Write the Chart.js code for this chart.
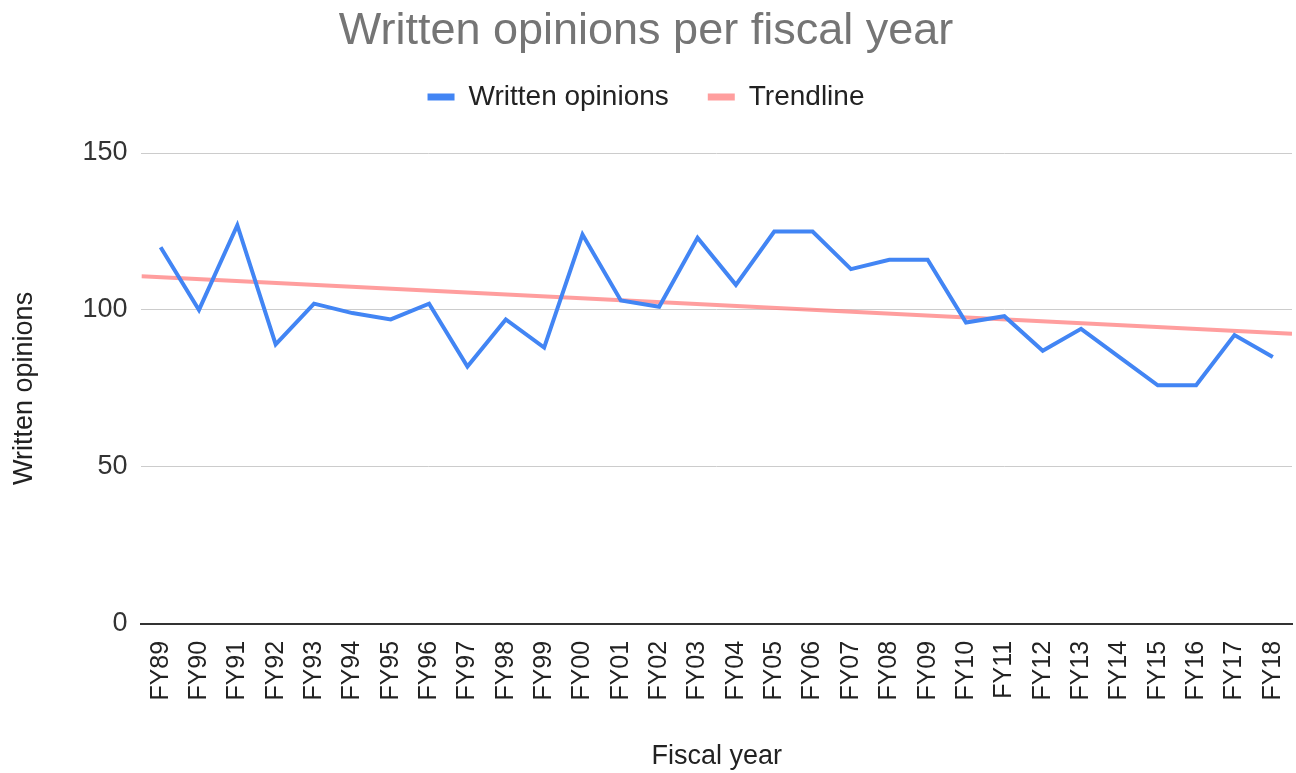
<!DOCTYPE html>
<html>
<head>
<meta charset="utf-8">
<title>Written opinions per fiscal year</title>
<script src="https://cdn.jsdelivr.net/npm/chart.js@4/dist/chart.umd.min.js"></script>
<style>
  html, body { margin: 0; padding: 0; background: #ffffff; }
  #wrap { position: relative; width: 1296px; height: 773px; }
</style>
</head>
<body>
<div id="wrap"><canvas id="chart" width="1296" height="773"></canvas></div>
<script>
// Fiscal years on the horizontal axis
const fiscalYears = [
  'FY89','FY90','FY91','FY92','FY93','FY94','FY95','FY96','FY97','FY98',
  'FY99','FY00','FY01','FY02','FY03','FY04','FY05','FY06','FY07','FY08',
  'FY09','FY10','FY11','FY12','FY13','FY14','FY15','FY16','FY17','FY18'
];

// Written opinions issued in each fiscal year
const writtenOpinions = [
  120, 100, 127, 89, 102, 99, 97, 102, 82, 97,
  88, 124, 103, 101, 123, 108, 125, 125, 113, 116,
  116, 96, 98, 87, 94, 85, 76, 76, 92, 85
];

// Linear trendline, spanning the full plot width (half a year beyond each end)
const trendX = [-0.5, 29.5];
const trendY = [110.7, 92.4];

// Value axis ticks
const yTicks = [0, 50, 100, 150];

const FONT = "'Liberation Sans', Arial, sans-serif";

const opinionPoints = writtenOpinions.map((v, i) => ({ x: i, y: v }));
const trendPoints = trendX.map((x, i) => ({ x: x, y: trendY[i] }));

// Adds room under the legend so the plot starts at the right height
const legendSpacer = {
  id: 'legendSpacer',
  beforeInit(chart) {
    const origFit = chart.legend.fit;
    chart.legend.fit = function () {
      origFit.bind(chart.legend)();
      this.height += 32;
    };
  }
};

new Chart(document.getElementById('chart'), {
  type: 'line',
  data: {
    datasets: [
      {
        label: 'Written opinions',
        data: opinionPoints,
        borderColor: '#4285f4',
        backgroundColor: '#4285f4',
        borderWidth: 4,
        pointRadius: 0,
        pointHoverRadius: 0,
        tension: 0,
        order: 1
      },
      {
        label: 'Trendline',
        data: trendPoints,
        borderColor: 'rgba(255, 120, 120, 0.72)',
        backgroundColor: 'rgba(255, 120, 120, 0.72)',
        borderWidth: 4,
        pointRadius: 0,
        pointHoverRadius: 0,
        tension: 0,
        order: 2
      }
    ]
  },
  options: {
    responsive: false,
    animation: false,
    layout: { padding: { left: 0, right: 4, top: 0, bottom: 0 } },
    plugins: {
      title: {
        display: true,
        text: 'Written opinions per fiscal year',
        color: '#757575',
        font: { family: FONT, size: 45, weight: 'normal' },
        padding: { top: 5, bottom: -15 }
      },
      legend: {
        display: true,
        position: 'top',
        labels: {
          color: '#222222',
          font: { family: FONT, size: 28 },
          boxWidth: 27,
          boxHeight: 7,
          padding: 39,
          generateLabels(chart) {
            const items = Chart.defaults.plugins.legend.labels.generateLabels(chart);
            items.forEach(it => { it.lineWidth = 0; });
            return items;
          }
        }
      },
      tooltip: { enabled: false }
    },
    scales: {
      x: {
        type: 'linear',
        min: trendX[0],
        max: trendX[1],
        afterBuildTicks(scale) {
          scale.ticks = fiscalYears.map((_, i) => ({ value: i }));
        },
        afterFit(scale) {
          scale.paddingLeft = 0;
          scale.paddingRight = 0;
        },
        ticks: {
          autoSkip: false,
          maxRotation: 90,
          minRotation: 90,
          padding: 17,
          color: '#222222',
          font: { family: FONT, size: 25 },
          callback: (value) => fiscalYears[value]
        },
        grid: { display: false, drawTicks: false },
        border: { display: true, color: '#333333', width: 2 },
        title: {
          display: true,
          text: 'Fiscal year',
          color: '#222222',
          font: { family: FONT, size: 27 },
          padding: { top: 23, bottom: 0 }
        }
      },
      y: {
        min: yTicks[0],
        max: yTicks[yTicks.length - 1],
        afterBuildTicks(scale) {
          scale.ticks = yTicks.map(v => ({ value: v }));
        },
        ticks: {
          padding: 14,
          color: '#333333',
          font: { family: FONT, size: 27 }
        },
        grid: { color: '#cccccc', lineWidth: 1, drawTicks: false },
        border: { display: false },
        title: {
          display: true,
          text: 'Written opinions',
          color: '#222222',
          font: { family: FONT, size: 27 },
          padding: { top: 8, bottom: 28 }
        }
      }
    }
  },
  plugins: [legendSpacer]
});
</script>
</body>
</html>
